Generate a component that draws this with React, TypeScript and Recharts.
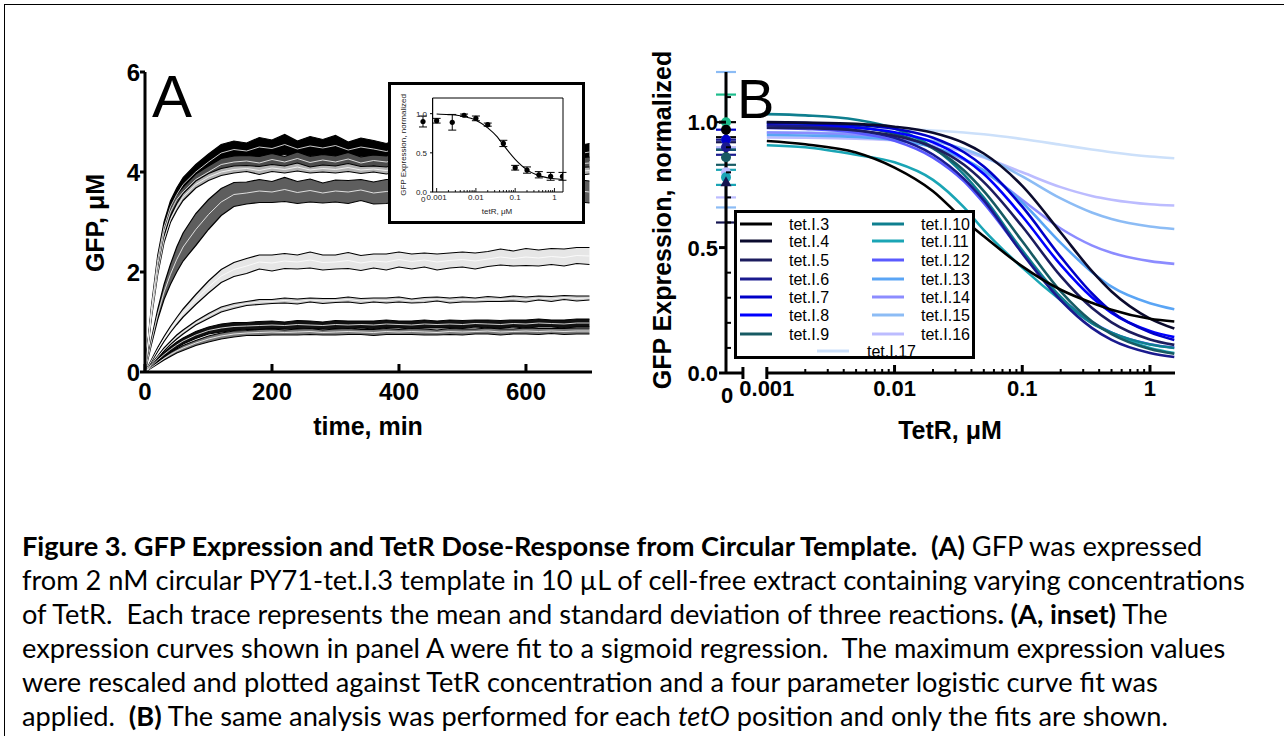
import React from 'react';
import { ComposedChart, Line, Area, XAxis, YAxis, Scatter, ErrorBar, ReferenceLine } from 'recharts';

const SANS = "'Liberation Sans', Arial, Helvetica, sans-serif";

// ---------------- Panel A: GFP time courses (mean ± sd) ----------------
const timeMin = [0,10,20,30,40,50,60,80,100,120,140,160,180,200,220,240,260,280,300,320,340,360,380,400,420,440,460,480,500,520,540,560,580,600,620,640,660,680,700];

const meanA1 = [0,1.25,2.25,2.9,3.3,3.55,3.75,4.0,4.2,4.38,4.45,4.42,4.5,4.47,4.55,4.46,4.52,4.48,4.53,4.44,4.5,4.46,4.41,4.48,4.43,4.47,4.4,4.45,4.42,4.38,4.44,4.4,4.43,4.37,4.42,4.39,4.41,4.36,4.4];
const sdA1 = [0,0.05,0.08,0.1,0.12,0.13,0.14,0.15,0.16,0.17,0.17,0.16,0.19,0.17,0.2,0.16,0.19,0.17,0.2,0.16,0.18,0.17,0.16,0.18,0.17,0.18,0.16,0.17,0.18,0.16,0.17,0.18,0.16,0.17,0.18,0.16,0.17,0.16,0.17];
const meanA2 = [0,1.2,2.15,2.8,3.2,3.45,3.6,3.85,4.0,4.15,4.2,4.22,4.18,4.25,4.2,4.27,4.19,4.24,4.2,4.26,4.18,4.23,4.2,4.25,4.17,4.22,4.19,4.24,4.2,4.16,4.21,4.18,4.22,4.15,4.2,4.17,4.21,4.16,4.18];
const sdA2 = [0,0.04,0.06,0.08,0.09,0.1,0.1,0.11,0.12,0.12,0.12,0.11,0.13,0.12,0.11,0.13,0.12,0.11,0.12,0.13,0.12,0.11,0.12,0.13,0.12,0.11,0.12,0.13,0.12,0.11,0.12,0.13,0.12,0.11,0.12,0.12,0.13,0.12,0.12];
const meanA3 = [0,1.1,2.0,2.65,3.05,3.3,3.5,3.75,3.9,4.0,4.05,4.07,4.03,4.08,4.05,4.1,4.04,4.07,4.05,4.09,4.04,4.06,4.03,4.08,4.05,4.07,4.02,4.06,4.04,4.01,4.05,4.03,4.06,4.0,4.04,4.02,4.05,4.01,4.03];
const sdA3 = [0,0.03,0.05,0.06,0.06,0.07,0.07,0.07,0.07,0.07,0.07,0.06,0.08,0.07,0.07,0.08,0.06,0.07,0.07,0.08,0.07,0.06,0.07,0.08,0.07,0.07,0.06,0.08,0.07,0.07,0.06,0.07,0.08,0.07,0.07,0.06,0.07,0.08,0.07];
const meanA4 = [0,0.6,1.15,1.6,1.95,2.25,2.5,2.85,3.15,3.4,3.55,3.58,3.62,3.6,3.65,3.59,3.63,3.58,3.62,3.6,3.64,3.58,3.61,3.63,3.59,3.62,3.6,3.64,3.58,3.61,3.6,3.63,3.59,3.62,3.58,3.61,3.6,3.63,3.6];
const sdA4 = [0,0.05,0.1,0.15,0.2,0.25,0.28,0.32,0.3,0.27,0.24,0.22,0.23,0.21,0.24,0.22,0.23,0.2,0.22,0.23,0.21,0.22,0.24,0.22,0.21,0.23,0.22,0.21,0.23,0.22,0.22,0.21,0.23,0.22,0.22,0.21,0.23,0.22,0.22];
const meanA5 = [0,0.22,0.45,0.66,0.85,1.02,1.18,1.45,1.7,1.92,2.05,2.12,2.2,2.18,2.22,2.2,2.24,2.19,2.2,2.23,2.18,2.22,2.2,2.25,2.21,2.24,2.2,2.23,2.25,2.22,2.26,2.3,2.27,2.3,2.28,2.31,2.29,2.33,2.32];
const sdA5 = [0,0.02,0.04,0.05,0.06,0.07,0.08,0.1,0.12,0.13,0.14,0.15,0.14,0.16,0.15,0.14,0.16,0.15,0.14,0.16,0.15,0.14,0.16,0.15,0.15,0.14,0.16,0.15,0.15,0.16,0.15,0.16,0.15,0.17,0.16,0.16,0.17,0.16,0.17];
const meanA6 = [0,0.15,0.3,0.45,0.58,0.7,0.8,0.98,1.12,1.25,1.32,1.37,1.4,1.41,1.43,1.41,1.44,1.42,1.43,1.45,1.42,1.44,1.43,1.45,1.42,1.44,1.46,1.43,1.45,1.44,1.46,1.45,1.47,1.45,1.48,1.46,1.49,1.47,1.48];
const sdA6 = [0,0.01,0.02,0.03,0.03,0.04,0.04,0.04,0.05,0.05,0.05,0.04,0.05,0.04,0.05,0.05,0.04,0.05,0.04,0.05,0.05,0.04,0.05,0.05,0.04,0.05,0.04,0.05,0.05,0.04,0.05,0.04,0.05,0.05,0.04,0.05,0.04,0.05,0.04];
const meanA7 = [0,0.12,0.24,0.35,0.45,0.54,0.62,0.74,0.83,0.88,0.91,0.92,0.93,0.94,0.93,0.95,0.94,0.93,0.95,0.94,0.95,0.94,0.96,0.95,0.94,0.96,0.95,0.96,0.95,0.97,0.96,0.95,0.97,0.96,0.98,0.97,0.96,0.98,0.98];
const sdA7 = [0,0.02,0.03,0.04,0.05,0.06,0.06,0.07,0.07,0.08,0.08,0.07,0.08,0.08,0.07,0.08,0.08,0.07,0.08,0.08,0.07,0.08,0.08,0.07,0.08,0.08,0.07,0.08,0.08,0.07,0.08,0.08,0.07,0.08,0.08,0.07,0.08,0.08,0.08];
const meanA8 = [0,0.09,0.18,0.27,0.35,0.42,0.48,0.58,0.66,0.72,0.76,0.78,0.79,0.8,0.79,0.8,0.81,0.79,0.8,0.81,0.8,0.79,0.81,0.8,0.81,0.8,0.79,0.81,0.8,0.81,0.82,0.8,0.81,0.82,0.81,0.82,0.81,0.82,0.82];
const sdA8 = [0,0.01,0.02,0.03,0.04,0.04,0.05,0.05,0.06,0.06,0.06,0.05,0.06,0.06,0.05,0.06,0.06,0.05,0.06,0.06,0.05,0.06,0.06,0.05,0.06,0.06,0.05,0.06,0.06,0.05,0.06,0.06,0.05,0.06,0.06,0.05,0.06,0.06,0.06];

const meansA = [meanA1, meanA2, meanA3, meanA4, meanA5, meanA6, meanA7, meanA8];
const sdsA = [sdA1, sdA2, sdA3, sdA4, sdA5, sdA6, sdA7, sdA8];
const fillsA = ['#000000', '#4d4d4d', '#b3b3b3', '#5e5e5e', '#e6e6e6', '#c8c8c8', '#111111', '#7a7a7a'];

const ticksAX = [0, 200, 400, 600];
const ticksAY = [0, 2, 4, 6];
const ticksATop = [200, 400, 600];
const ticksARight = [2, 4];

const tableA = timeMin.map((t, i) => {
  const row: any = { t };
  meansA.forEach((m, k) => {
    row['m' + k] = m[i];
    row['b' + k] = [m[i] - sdsA[k][i], m[i] + sdsA[k][i]];
  });
  return row;
});

// ---------------- Inset: dose response of tet.I.3 ----------------
const insetDose = [0.001, 0.0025, 0.005, 0.01, 0.02, 0.05, 0.1, 0.2, 0.4, 0.8, 1.6];
const insetMean = [0.91, 0.89, 0.98, 0.94, 0.86, 0.62, 0.31, 0.28, 0.22, 0.2, 0.2];
const insetErr = [0.03, 0.1, 0.015, 0.03, 0.02, 0.04, 0.03, 0.04, 0.04, 0.05, 0.05];
const insetZeroMean = [0.9];
const insetZeroErr = [0.07];
const insetFitDose = [0.001, 0.002, 0.005, 0.01, 0.02, 0.035, 0.05, 0.1, 0.2, 0.35, 0.5, 1, 1.6];
const insetFit = [0.996, 0.988, 0.964, 0.916, 0.818, 0.703, 0.6, 0.417, 0.283, 0.22, 0.196, 0.169, 0.16];
const insetMajor = [0.001, 0.01, 0.1, 1];
const insetYTicks = [0, 0.5, 1.0];

const INSET_MIN = 0.0004;
const INSET_MAX = 1.65;
const INSET_AXIS = 0.00079;
const INSET_ZERO_TICK = 0.000405;

const insetPts = insetDose.map((x, i) => ({ x, y: insetMean[i], e: insetErr[i] }));
const insetZeroPts = insetZeroMean.map((y, i) => ({ x: 0, y, e: insetZeroErr[i] }));
const insetFitRows = insetFitDose.map((x, i) => ({ x, fit: insetFit[i] }));
const minorMult = [2, 3, 4, 5, 6, 7, 8, 9];
const insetTicks = [INSET_ZERO_TICK, ...insetMajor, ...[0.001, 0.01, 0.1].flatMap(d => minorMult.map(m => d * m))];

// ---------------- Panel B: fits for each tetO position ----------------
const tetRDose = [0.001, 0.002, 0.005, 0.01, 0.02, 0.035, 0.05, 0.1, 0.2, 0.35, 0.5, 1, 1.55];
const fitI3 = [0.925, 0.912, 0.879, 0.819, 0.725, 0.61, 0.545, 0.425, 0.332, 0.28, 0.252, 0.216, 0.205];
const fitI4 = [1.0, 0.998, 0.993, 0.982, 0.958, 0.917, 0.875, 0.746, 0.56, 0.407, 0.325, 0.217, 0.177];
const fitI5 = [0.978, 0.976, 0.967, 0.946, 0.901, 0.83, 0.761, 0.584, 0.386, 0.26, 0.202, 0.134, 0.112];
const fitI6 = [0.987, 0.983, 0.968, 0.938, 0.871, 0.774, 0.688, 0.477, 0.29, 0.18, 0.132, 0.08, 0.064];
const fitI7 = [0.998, 0.996, 0.989, 0.974, 0.938, 0.88, 0.823, 0.663, 0.463, 0.318, 0.245, 0.162, 0.132];
const fitI8 = [0.988, 0.986, 0.978, 0.96, 0.92, 0.854, 0.793, 0.625, 0.431, 0.302, 0.24, 0.168, 0.143];
const fitI9 = [0.998, 0.994, 0.981, 0.954, 0.896, 0.807, 0.725, 0.525, 0.325, 0.206, 0.155, 0.096, 0.077];
const fitI10 = [1.032, 1.027, 1.01, 0.975, 0.899, 0.791, 0.699, 0.489, 0.303, 0.199, 0.161, 0.114, 0.1];
const fitI11 = [0.908, 0.9, 0.87, 0.84, 0.77, 0.66, 0.57, 0.42, 0.29, 0.2, 0.16, 0.1, 0.08];
const fitI12 = [0.977, 0.973, 0.958, 0.926, 0.859, 0.764, 0.677, 0.48, 0.3, 0.204, 0.161, 0.115, 0.101];
const fitI13 = [0.949, 0.947, 0.941, 0.929, 0.9, 0.854, 0.808, 0.68, 0.519, 0.403, 0.344, 0.278, 0.254];
const fitI14 = [0.959, 0.957, 0.949, 0.934, 0.9, 0.85, 0.804, 0.69, 0.576, 0.509, 0.479, 0.446, 0.435];
const fitI15 = [0.959, 0.958, 0.954, 0.945, 0.925, 0.893, 0.863, 0.784, 0.696, 0.64, 0.614, 0.584, 0.574];
const fitI16 = [0.939, 0.938, 0.934, 0.927, 0.909, 0.883, 0.859, 0.8, 0.741, 0.706, 0.691, 0.673, 0.668];
const fitI17 = [0.979, 0.979, 0.977, 0.973, 0.967, 0.959, 0.952, 0.933, 0.91, 0.891, 0.88, 0.863, 0.856];

const namesB = ['tet.I.3','tet.I.4','tet.I.5','tet.I.6','tet.I.7','tet.I.8','tet.I.9','tet.I.10','tet.I.11','tet.I.12','tet.I.13','tet.I.14','tet.I.15','tet.I.16','tet.I.17'];
const colorsB = ['#000000','#0b0b2e','#1c1c5e','#1a1a8e','#0000c8','#0000ff','#175a63','#0f7f8f','#1aa5b5','#5a5aff','#5aa5f5','#8c8cff','#8cbcf5','#bcbcff','#cce0fa'];
const fitsB = [fitI3, fitI4, fitI5, fitI6, fitI7, fitI8, fitI9, fitI10, fitI11, fitI12, fitI13, fitI14, fitI15, fitI16, fitI17];

const tableB = tetRDose.map((x, i) => {
  const row: any = { x };
  fitsB.forEach((f, k) => { row['s' + k] = f[i]; });
  return row;
});

// zero-dose points of panel B
const zeroColorsB = ['#8cbcf5', '#bcbcff', '#1dbd8c', '#000000', '#0000c8', '#1a1a8e', '#175a63', '#1aa5b5', '#141450'];
const zeroMeanB = [0.93, 0.8, 1.0, 0.97, 0.93, 0.9, 0.86, 0.78, 0.76];
const zeroErrB = [0.27, 0.1, 0.11, 0.03, 0.04, 0.03, 0.03, 0.03, 0.16];
const zeroShapeB = ['circle', 'circle', 'circle', 'circle', 'circle', 'circle', 'circle', 'circle', 'triangle'];

const B_MIN = 0.000479;
const B_MAX = 1.57;
const B_CAP = 0.00065;
const B_ZERO_TICK = 0.00048;
const majorBX = [0.001, 0.01, 0.1, 1];
const ticksBX = [B_ZERO_TICK, B_CAP, ...majorBX, ...[0.001, 0.01, 0.1].flatMap(d => minorMult.map(m => d * m))];
const majorBY = [0, 0.5, 1.0];
const minorBY = [0.1, 0.2, 0.3, 0.4, 0.6, 0.7, 0.8, 0.9, 1.1];
const ticksBY = [...majorBY, ...minorBY];

// ---------------- tick renderers ----------------
const tickTextA = { fontFamily: SANS, fontWeight: 700, fontSize: 24, fill: '#000' };
const TickAX = (p: any) => (
  <g>
    <line x1={p.x} x2={p.x} y1={p.y} y2={p.y - 8} stroke="#000" strokeWidth={3} />
    <text x={p.x} y={p.y + 28} textAnchor="middle" {...tickTextA}>{p.payload.value}</text>
  </g>
);
const TickAY = (p: any) => (
  <g>
    <line x1={p.x} x2={p.x - 5} y1={p.y} y2={p.y} stroke="#000" strokeWidth={3} />
    <text x={p.x - 5} y={p.y + 8.5} textAnchor="end" {...tickTextA}>{p.payload.value}</text>
  </g>
);
const TickATop = (p: any) => <line x1={p.x} x2={p.x} y1={p.y} y2={p.y + 11} stroke="#000" strokeWidth={3} />;
const TickARight = (p: any) => <line x1={p.x} x2={p.x - 6} y1={p.y} y2={p.y} stroke="#000" strokeWidth={3} />;

const tickTextB = { fontFamily: SANS, fontWeight: 700, fontSize: 22, fill: '#000' };
const TickBX = (p: any) => {
  const v = p.payload.value;
  if (v === B_ZERO_TICK) return <text x={p.x + 1} y={p.y + 30} textAnchor="middle" {...tickTextB}>0</text>;
  if (v === B_CAP || v === 0.001) {
    return (
      <g>
        <line x1={p.x} x2={p.x} y1={p.y - 6} y2={p.y + 6} stroke="#000" strokeWidth={3} />
        {v === 0.001 && <text x={p.x} y={p.y + 23} textAnchor="middle" {...tickTextB}>0.001</text>}
      </g>
    );
  }
  const major = majorBX.includes(v);
  return (
    <g>
      <line x1={p.x} x2={p.x} y1={p.y} y2={p.y - (major ? 8 : 4)} stroke="#000" strokeWidth={major ? 3 : 2} />
      {major && <text x={p.x} y={p.y + 23} textAnchor="middle" {...tickTextB}>{String(v)}</text>}
    </g>
  );
};
const TickBY = (p: any) => {
  const v = p.payload.value;
  if (majorBY.includes(v)) {
    return (
      <g>
        <line x1={p.x} x2={p.x - 7} y1={p.y} y2={p.y} stroke="#000" strokeWidth={3} />
        <text x={p.x - 8} y={p.y + 8} textAnchor="end" {...tickTextB}>{v.toFixed(1)}</text>
      </g>
    );
  }
  return <line x1={p.x} x2={p.x + 5} y1={p.y} y2={p.y} stroke="#000" strokeWidth={2} />;
};

const tickTextI = { fontFamily: SANS, fontSize: 8, fill: '#222' };
const TickIX = (p: any) => {
  const v = p.payload.value;
  if (v === INSET_ZERO_TICK) return <text x={p.x + 2} y={p.y + 10} textAnchor="middle" {...tickTextI}>0</text>;
  const major = insetMajor.includes(v);
  return (
    <g>
      <line x1={p.x} x2={p.x} y1={p.y} y2={p.y - (major ? 4 : 2)} stroke="#000" strokeWidth={0.9} />
      {major && <text x={p.x} y={p.y + 8} textAnchor="middle" {...tickTextI}>{String(v)}</text>}
    </g>
  );
};
const TickIY = (p: any) => (
  <g>
    <line x1={p.x + 9} x2={p.x + 12} y1={p.y} y2={p.y} stroke="#000" strokeWidth={1} />
    <text x={p.x + 6} y={p.y + 3} textAnchor="end" {...tickTextI}>{p.payload.value.toFixed(1)}</text>
  </g>
);

const dotShape = (r: number, color: string) => (p: any) => <circle cx={p.cx} cy={p.cy} r={r} fill={color} />;
const triShape = (color: string) => (p: any) => (
  <polygon points={`${p.cx},${p.cy - 6} ${p.cx - 5.5},${p.cy + 4} ${p.cx + 5.5},${p.cy + 4}`} fill={color} />
);

// ---------------- components ----------------
function PanelA() {
  return (
    <ComposedChart width={640} height={450} data={tableA} margin={{ top: 72, right: 48, bottom: 0, left: 0 }}>
      <XAxis xAxisId="t" dataKey="t" type="number" domain={[0, 704]} ticks={ticksAX} interval={0}
        tickSize={0} tickMargin={0} height={78} axisLine={{ stroke: '#000', strokeWidth: 3 }} tickLine={false} tick={TickAX} />
      <XAxis xAxisId="top" orientation="top" type="number" domain={[0, 704]} ticks={ticksATop} interval={0}
        tickSize={0} tickMargin={0} height={0} axisLine={{ stroke: '#000', strokeWidth: 3 }} tickLine={false} tick={TickATop} />
      <YAxis yAxisId="g" type="number" domain={[0, 6]} ticks={ticksAY} interval={0} width={145}
        tickSize={0} tickMargin={0} axisLine={{ stroke: '#000', strokeWidth: 3 }} tickLine={false} tick={TickAY} />
      <YAxis yAxisId="right" orientation="right" type="number" domain={[0, 6]} ticks={ticksARight} interval={0} width={0}
        tickSize={0} tickMargin={0} axisLine={{ stroke: '#000', strokeWidth: 3 }} tickLine={false} tick={TickARight} />
      {meansA.map((_, k) => (
        <Area key={'b' + k} xAxisId="t" yAxisId="g" type="linear" dataKey={'b' + k} fill={fillsA[k]} fillOpacity={1}
          stroke="#000" strokeWidth={1.2} isAnimationActive={false} />
      ))}
      {meansA.map((_, k) => (
        <Line key={'m' + k} xAxisId="t" yAxisId="g" type="linear" dataKey={'m' + k} stroke="#ffffff" strokeWidth={0.8}
          dot={false} isAnimationActive={false} />
      ))}
    </ComposedChart>
  );
}

function Inset() {
  return (
    <ComposedChart width={197} height={142} data={insetFitRows} margin={{ top: 16, right: 22, bottom: 0, left: 0 }}>
      <XAxis xAxisId="log" dataKey="x" type="number" scale="log" domain={[INSET_MIN, INSET_MAX]} allowDataOverflow
        ticks={insetTicks} interval={0} tickSize={0} tickMargin={0} height={32} axisLine={false} tickLine={false} tick={TickIX} />
      <XAxis xAxisId="z" dataKey="x" type="number" domain={[-0.01428, 1]} hide />
      <YAxis yAxisId="y" type="number" domain={[0, 1.2]} ticks={insetYTicks} interval={0} width={33}
        tickSize={0} tickMargin={0} axisLine={false} tickLine={false} tick={TickIY} />
      <ReferenceLine xAxisId="log" yAxisId="y" ifOverflow="visible" stroke="#000" strokeWidth={1.2}
        segment={[{ x: INSET_AXIS, y: 0 }, { x: INSET_AXIS, y: 1.2 }]} />
      <ReferenceLine xAxisId="log" yAxisId="y" ifOverflow="visible" stroke="#000" strokeWidth={1.2}
        segment={[{ x: INSET_AXIS, y: 0 }, { x: INSET_MAX, y: 0 }]} />
      <ReferenceLine xAxisId="log" yAxisId="y" ifOverflow="visible" stroke="#000" strokeWidth={1}
        segment={[{ x: INSET_AXIS, y: 1.2 }, { x: INSET_MAX, y: 1.2 }]} />
      <ReferenceLine xAxisId="log" yAxisId="y" ifOverflow="visible" stroke="#000" strokeWidth={1}
        segment={[{ x: INSET_MAX, y: 0 }, { x: INSET_MAX, y: 1.2 }]} />
      <Line xAxisId="log" yAxisId="y" type="monotone" dataKey="fit" stroke="#000" strokeWidth={1.1} dot={false} isAnimationActive={false} />
      <Scatter xAxisId="log" yAxisId="y" data={insetPts} dataKey="y" shape={dotShape(2.6, '#000')} isAnimationActive={false}>
        <ErrorBar dataKey="e" direction="y" width={4} stroke="#000" strokeWidth={1} isAnimationActive={false} />
      </Scatter>
      <Scatter xAxisId="z" yAxisId="y" data={insetZeroPts} dataKey="y" shape={dotShape(2.6, '#000')} isAnimationActive={false}>
        <ErrorBar dataKey="e" direction="y" width={4} stroke="#000" strokeWidth={1} isAnimationActive={false} />
      </Scatter>
    </ComposedChart>
  );
}

function PanelB() {
  const order = fitsB.map((_, k) => fitsB.length - 1 - k);
  return (
    <ComposedChart width={600} height={450} data={tableB} margin={{ top: 72, right: 25, bottom: 0, left: 0 }}>
      <XAxis xAxisId="log" dataKey="x" type="number" scale="log" domain={[B_MIN, B_MAX]} allowDataOverflow
        ticks={ticksBX} interval={0} tickSize={0} tickMargin={0} height={77} axisLine={false} tickLine={false} tick={TickBX} />
      <XAxis xAxisId="zero" dataKey="x" type="number" domain={[0, 1]} hide />
      <XAxis xAxisId="top" orientation="top" type="number" domain={[0, 1]} height={0} tick={false} tickLine={false}
        axisLine={{ stroke: '#000', strokeWidth: 2.5 }} />
      <YAxis yAxisId="y" type="number" domain={[0, 1.2]} ticks={ticksBY} interval={0} width={126}
        tickSize={0} tickMargin={0} axisLine={{ stroke: '#000', strokeWidth: 3 }} tickLine={false} tick={TickBY} />
      <YAxis yAxisId="right" orientation="right" type="number" domain={[0, 1]} width={0} tick={false} tickLine={false}
        axisLine={{ stroke: '#000', strokeWidth: 2.5 }} />
      <ReferenceLine xAxisId="log" yAxisId="y" ifOverflow="visible" stroke="#000" strokeWidth={3}
        segment={[{ x: B_MIN, y: 0 }, { x: B_CAP, y: 0 }]} />
      <ReferenceLine xAxisId="log" yAxisId="y" ifOverflow="visible" stroke="#000" strokeWidth={3}
        segment={[{ x: 0.001, y: 0 }, { x: B_MAX, y: 0 }]} />
      {order.map(k => (
        <Line key={'s' + k} xAxisId="log" yAxisId="y" type="monotone" dataKey={'s' + k} name={namesB[k]}
          stroke={colorsB[k]} strokeWidth={2.6} dot={false} isAnimationActive={false} />
      ))}
      {zeroMeanB.map((y, k) => (
        <Scatter key={'z' + k} xAxisId="zero" yAxisId="y" data={[{ x: 0, y, e: zeroErrB[k] }]} dataKey="y"
          shape={zeroShapeB[k] === 'triangle' ? triShape(zeroColorsB[k]) : dotShape(5, zeroColorsB[k])} isAnimationActive={false}>
          <ErrorBar dataKey="e" direction="y" width={10} stroke={zeroColorsB[k]} strokeWidth={2.2} isAnimationActive={false} />
        </Scatter>
      ))}
    </ComposedChart>
  );
}

function LegendB() {
  const rowsY = [14, 31, 50, 69, 87, 105, 124];
  const item = (k: number, lx: number, tx: number, y: number) => (
    <g key={k}>
      <line x1={lx} x2={lx + 32} y1={y} y2={y} stroke={colorsB[k]} strokeWidth={3} />
      <text x={tx} y={y + 6} fontFamily={SANS} fontSize={16} fill="#000">{namesB[k]}</text>
    </g>
  );
  return (
    <div style={{ position: 'absolute', left: 734, top: 210, width: 241, height: 149, boxSizing: 'border-box',
      border: '3px solid #000', background: '#fff' }}>
      <svg width={241} height={149} style={{ position: 'absolute', left: -3, top: -3 }}>
        {namesB.slice(0, 7).map((_, i) => item(i, 6, 55, rowsY[i]))}
        {namesB.slice(7, 14).map((_, i) => item(i + 7, 138, 187, rowsY[i]))}
        {item(14, 83, 133, 141)}
      </svg>
    </div>
  );
}

const titleStyle: any = { position: 'absolute', fontFamily: SANS, fontWeight: 700, fontSize: 25, whiteSpace: 'nowrap',
  color: '#000', lineHeight: '28px' };
const centered = (x: number, y: number, rotate = false): any => ({
  left: x, top: y, transform: rotate ? 'translate(-50%, -50%) rotate(-90deg)' : 'translate(-50%, -50%)',
});

export default function App() {
  return (
    <div style={{ position: 'absolute', left: 0, top: 0, width: 1284, height: 736, overflow: 'hidden', background: '#fff' }}>
      <div style={{ position: 'absolute', left: 4, top: 4, width: 1300, height: 760, borderTop: '1.5px solid #000',
        borderLeft: '1.5px solid #000' }} />

      <div style={{ position: 'absolute', left: 0, top: 0 }}><PanelA /></div>
      <div style={{ position: 'absolute', left: 152, top: 67, fontFamily: SANS, fontSize: 60, lineHeight: '60px', color: '#000' }}>A</div>
      <div style={{ ...titleStyle, ...centered(95, 223, true) }}>GFP, μM</div>
      <div style={{ ...titleStyle, ...centered(368, 426) }}>time, min</div>

      <div style={{ position: 'absolute', left: 388, top: 82, width: 197, height: 142, boxSizing: 'border-box',
        border: '3px solid #000', background: '#fff' }} />
      <div style={{ position: 'absolute', left: 388, top: 82 }}><Inset /></div>
      <div style={{ position: 'absolute', fontFamily: SANS, fontSize: 8, color: '#222', whiteSpace: 'nowrap', lineHeight: '10px',
        ...centered(404, 145, true) }}>GFP Expression, normalized</div>
      <div style={{ position: 'absolute', fontFamily: SANS, fontSize: 8, color: '#222', whiteSpace: 'nowrap', lineHeight: '10px',
        ...centered(497, 212) }}>tetR, μM</div>

      <div style={{ position: 'absolute', left: 600, top: 0 }}><PanelB /></div>
      <div style={{ position: 'absolute', left: 737, top: 71, fontFamily: SANS, fontSize: 56, lineHeight: '56px', color: '#000' }}>B</div>
      <div style={{ ...titleStyle, ...centered(662, 220, true) }}>GFP Expression, normalized</div>
      <div style={{ ...titleStyle, ...centered(950, 430) }}>TetR, μM</div>
      <LegendB />

      <div style={{ position: 'absolute', left: 22, top: 529, fontFamily: 'Lato, sans-serif', fontSize: 27.2, lineHeight: '34px',
        color: '#000', whiteSpace: 'nowrap' }}>
        <div><b>Figure 3. GFP Expression and TetR Dose-Response from Circular Template.</b>{'\u00a0 '}<b>(A)</b> GFP was expressed</div>
        <div>from 2 nM circular PY71-tet.I.3 template in 10 µL of cell-free extract containing varying concentrations</div>
        <div>of TetR.{'\u00a0 '}Each trace represents the mean and standard deviation of three reactions<b>. (A, inset)</b> The</div>
        <div>expression curves shown in panel A were fit to a sigmoid regression.{'\u00a0 '}The maximum expression values</div>
        <div>were rescaled and plotted against TetR concentration and a four parameter logistic curve fit was</div>
        <div>applied.{'\u00a0 '}<b>(B)</b> The same analysis was performed for each <i>tetO</i> position and only the fits are shown.</div>
      </div>
    </div>
  );
}
